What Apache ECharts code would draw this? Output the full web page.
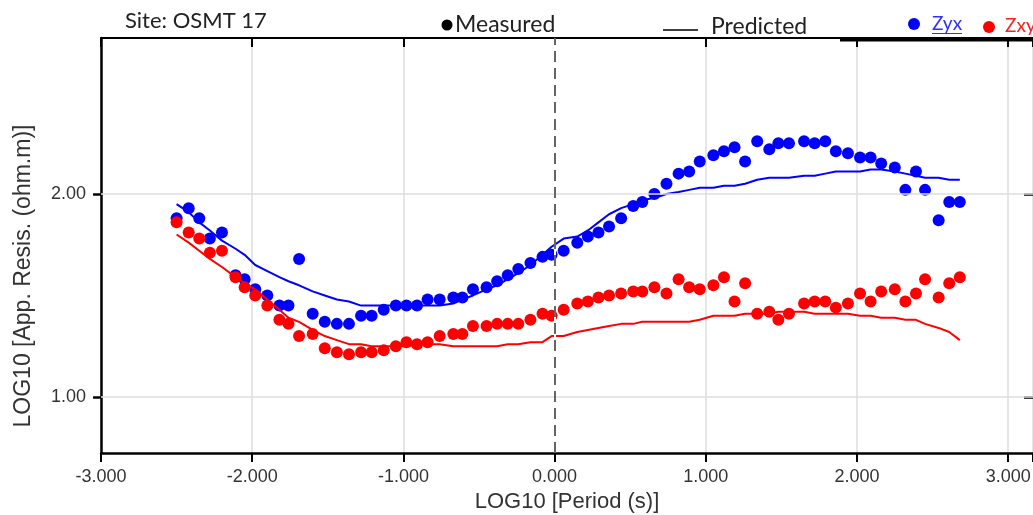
<!DOCTYPE html>
<html>
<head>
<meta charset="utf-8">
<script src="https://cdn.jsdelivr.net/npm/echarts@6/dist/echarts.min.js"></script>
<style>
html,body{margin:0;padding:0;background:#fff;}
#chart{width:1033px;height:515px;}
</style>
</head>
<body>
<div id="chart"></div>
<script>
// LOG10 period (s)
const periods = [-2.50,-2.42,-2.35,-2.28,-2.20,-2.11,-2.05,-1.98,-1.90,-1.82,
  -1.76,-1.69,-1.60,-1.52,-1.44,-1.36,-1.28,-1.21,-1.13,-1.05,
  -0.98,-0.91,-0.84,-0.76,-0.67,-0.61,-0.54,-0.45,-0.38,-0.31,
  -0.24,-0.16,-0.08,-0.02,0.06,0.15,0.22,0.29,0.36,0.44,
  0.52,0.58,0.66,0.74,0.82,0.89,0.96,1.05,1.12,1.19,
  1.26,1.34,1.42,1.48,1.55,1.65,1.72,1.79,1.86,1.94,
  2.02,2.09,2.16,2.25,2.32,2.39,2.45,2.54,2.61,2.68];

const zyxMeasured = [1.88,1.93,1.88,1.78,1.81,1.60,1.58,1.53,1.50,1.45,
  1.45,1.68,1.41,1.37,1.36,1.36,1.40,1.40,1.43,1.45,
  1.45,1.45,1.48,1.48,1.49,1.49,1.53,1.54,1.57,1.60,
  1.63,1.66,1.69,1.70,1.72,1.76,1.79,1.81,1.84,1.88,
  1.94,1.96,2.00,2.05,2.10,2.11,2.16,2.19,2.21,2.23,
  2.16,2.26,2.22,2.25,2.25,2.26,2.25,2.26,2.21,2.20,
  2.18,2.18,2.15,2.13,2.02,2.11,2.02,1.87,1.96,1.96];

const zxyMeasured = [1.86,1.81,1.78,1.71,1.72,1.59,1.54,1.50,1.45,1.38,
  1.36,1.30,1.31,1.24,1.22,1.21,1.22,1.22,1.23,1.25,
  1.27,1.26,1.27,1.30,1.31,1.31,1.35,1.35,1.36,1.36,
  1.36,1.38,1.41,1.40,1.43,1.46,1.47,1.49,1.50,1.51,
  1.52,1.52,1.54,1.51,1.58,1.54,1.53,1.55,1.59,1.47,
  1.56,1.41,1.42,1.38,1.41,1.46,1.47,1.47,1.44,1.46,
  1.51,1.47,1.52,1.53,1.47,1.51,1.58,1.49,1.56,1.59];

const zyxPredicted = [1.95,1.91,1.86,1.82,1.77,1.73,1.70,1.65,1.62,1.59,
  1.57,1.55,1.52,1.50,1.48,1.47,1.45,1.45,1.45,1.45,
  1.45,1.45,1.45,1.45,1.46,1.48,1.50,1.53,1.55,1.58,
  1.61,1.65,1.70,1.74,1.78,1.79,1.82,1.86,1.90,1.93,
  1.95,1.97,1.98,2.00,2.01,2.02,2.03,2.03,2.04,2.04,
  2.05,2.07,2.08,2.08,2.08,2.09,2.09,2.10,2.11,2.11,
  2.11,2.12,2.12,2.11,2.10,2.09,2.08,2.08,2.07,2.07];

const zxyPredicted = [1.80,1.76,1.72,1.68,1.64,1.59,1.56,1.53,1.48,1.43,
  1.39,1.37,1.33,1.30,1.28,1.26,1.26,1.25,1.25,1.25,
  1.25,1.26,1.26,1.26,1.25,1.25,1.25,1.25,1.25,1.26,
  1.26,1.27,1.27,1.30,1.30,1.32,1.33,1.34,1.35,1.36,
  1.36,1.37,1.37,1.37,1.37,1.37,1.38,1.40,1.40,1.40,
  1.41,1.41,1.41,1.42,1.42,1.42,1.41,1.41,1.41,1.41,
  1.40,1.40,1.39,1.39,1.38,1.38,1.36,1.34,1.32,1.28];

const xTicks = [-3, -2, -1, 0, 1, 2, 3];
const yTicks = [1, 2];

const X_MIN = -3, X_MAX = 3.164, Y_MIN = 0.724, Y_MAX = 2.768;
const pair = (ys) => periods.map((p, i) => [p, ys[i]]);

const chart = echarts.init(document.getElementById('chart'));
const axisFont = 'Liberation Sans, Arial, sans-serif';
const legendFont = 'Lato, sans-serif';

chart.setOption({
  animation: false,
  grid: { left: 101, top: 38, width: 932, height: 415, containLabel: false, outerBoundsMode: 'none' },
  xAxis: [{
    type: 'value', min: X_MIN, max: X_MAX, interval: 1, position: 'bottom',
    name: 'LOG10 [Period (s)]', nameLocation: 'middle', nameGap: 38,
    nameTextStyle: { fontFamily: axisFont, fontSize: 22, color: '#333' },
    axisLine: { show: true, onZero: false, lineStyle: { color: '#000', width: 2.5 } },
    axisTick: { show: true, inside: false, length: 9, lineStyle: { color: '#000', width: 2 } },
    axisLabel: { customValues: xTicks, fontFamily: axisFont, fontSize: 18, color: '#333', margin: 15,
      formatter: v => v.toFixed(3) },
    splitLine: { show: true, lineStyle: { color: '#dedede', width: 1.5 } }
  }, {
    type: 'value', min: X_MIN, max: X_MAX, interval: 1, position: 'top',
    axisLine: { show: true, onZero: false, lineStyle: { color: '#000', width: 2 } },
    axisTick: { show: true, inside: true, length: 9, lineStyle: { color: '#000', width: 2 } },
    axisLabel: { show: false }, splitLine: { show: false }
  }],
  yAxis: [{
    type: 'value', min: Y_MIN, max: Y_MAX, position: 'left',
    axisLine: { show: true, onZero: false, lineStyle: { color: '#000', width: 2.5 } },
    axisTick: { show: true, inside: false, length: 8, customValues: yTicks, lineStyle: { color: '#000', width: 2.5 } },
    axisLabel: { customValues: yTicks, fontFamily: axisFont, fontSize: 18, color: '#333', margin: 15,
      formatter: v => v.toFixed(2) },
    splitLine: { show: false }
  }, {
    type: 'value', min: Y_MIN, max: Y_MAX, position: 'right',
    axisLine: { show: false, onZero: false },
    axisTick: { show: true, inside: true, length: 9, customValues: yTicks, lineStyle: { color: '#000', width: 2.5 } },
    axisLabel: { show: false }, splitLine: { show: false }
  }],
  series: [
    {
      name: 'Zyx measured', type: 'scatter', data: pair(zyxMeasured),
      symbol: 'circle', symbolSize: 12, itemStyle: { color: '#0000ff', opacity: 1 }, z: 3,
      markLine: {
        silent: true, symbol: 'none', label: { show: false },
        data: [
          { yAxis: yTicks[0], lineStyle: { color: '#dedede', width: 1.5, type: 'solid' } },
          { yAxis: yTicks[1], lineStyle: { color: '#dedede', width: 1.5, type: 'solid' } },
          { xAxis: 0, lineStyle: { color: '#ffffff', width: 2, type: 'solid' } }
        ]
      }
    },
    {
      name: 'Zxy measured', type: 'scatter', data: pair(zxyMeasured),
      symbol: 'circle', symbolSize: 12, itemStyle: { color: '#ff0000', opacity: 1 }, z: 3,
      markLine: {
        silent: true, symbol: 'none', label: { show: false },
        data: [ { xAxis: 0, lineStyle: { color: '#333', width: 1.5, type: [11, 6] } } ]
      }
    },
    {
      name: 'Zyx predicted', type: 'line', data: pair(zyxPredicted), showSymbol: false,
      lineStyle: { color: '#0000ff', width: 2 }, itemStyle: { color: '#0000ff' }, z: 4
    },
    {
      name: 'Zxy predicted', type: 'line', data: pair(zxyPredicted), showSymbol: false,
      lineStyle: { color: '#ff0000', width: 2 }, itemStyle: { color: '#ff0000' }, z: 4
    }
  ],
  graphic: [
    { type: 'text', x: 24, y: 276, rotation: Math.PI / 2,
      style: { text: 'LOG10 [App. Resis. (ohm.m)]', align: 'center', verticalAlign: 'middle',
        fontFamily: axisFont, fontSize: 23, fill: '#333' } },
    { type: 'text', left: 125, top: 10, style: { text: 'Site: OSMT 17', fontFamily: legendFont, fontSize: 22, fill: '#222' } },
    { type: 'circle', shape: { cx: 447, cy: 25, r: 5.5 }, style: { fill: '#000' } },
    { type: 'text', left: 455, top: 13, style: { text: 'Measured', fontFamily: legendFont, fontSize: 23, fill: '#222' } },
    { type: 'line', shape: { x1: 663, y1: 30, x2: 698, y2: 30 }, style: { stroke: '#000', lineWidth: 1.5 } },
    { type: 'text', left: 711, top: 15, style: { text: 'Predicted', fontFamily: legendFont, fontSize: 23, fill: '#222' } },
    { type: 'circle', shape: { cx: 914, cy: 24, r: 6 }, style: { fill: '#0000ff' } },
    { type: 'text', left: 932, top: 14, style: { text: 'Zyx', fontFamily: legendFont, fontSize: 19, fill: '#3030ff' } },
    { type: 'line', shape: { x1: 932, y1: 33.5, x2: 962, y2: 33.5 }, style: { stroke: '#3030ff', lineWidth: 1 } },
    { type: 'circle', shape: { cx: 989, cy: 27, r: 6 }, style: { fill: '#ff0000' } },
    { type: 'text', left: 1005, top: 16, style: { text: 'Zxy', fontFamily: legendFont, fontSize: 19, fill: '#ff2020' } },
    { type: 'line', shape: { x1: 840, y1: 39.5, x2: 1033, y2: 39.5 }, style: { stroke: '#000', lineWidth: 4 } }
  ]
});
</script>
</body>
</html>
